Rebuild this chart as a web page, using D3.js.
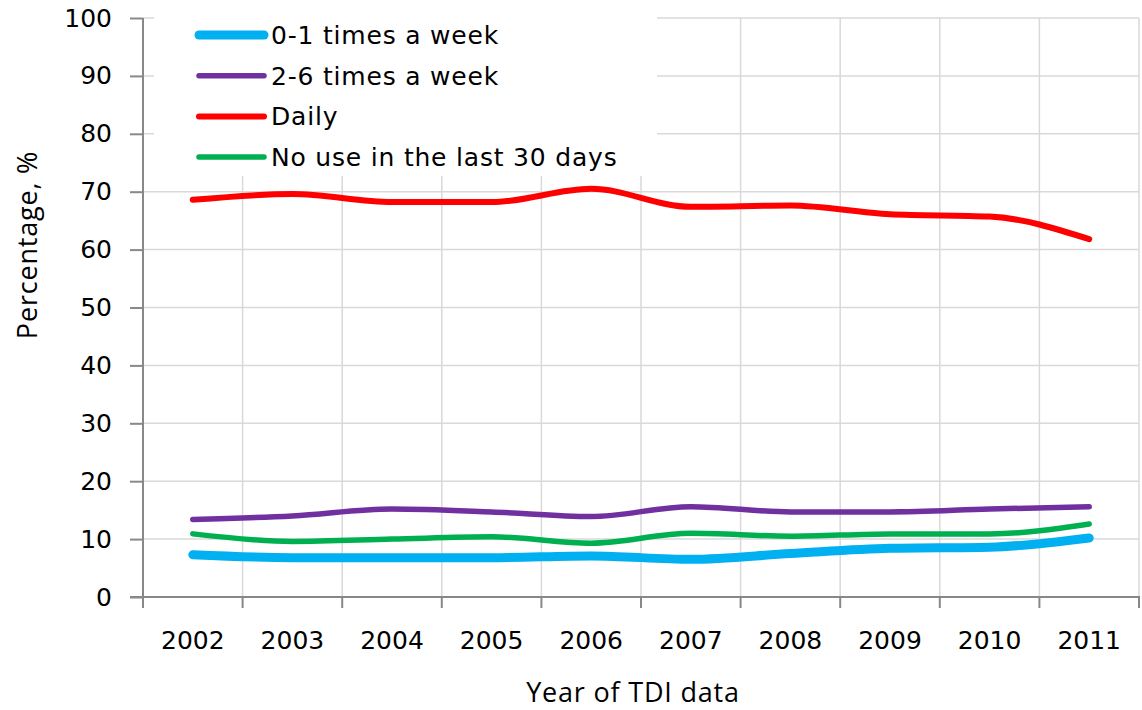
<!DOCTYPE html>
<html>
<head>
<meta charset="utf-8">
<script src="https://cdn.jsdelivr.net/npm/d3@7"></script>
<style>
    body { margin: 0; background: #fff; }
    text { fill: #000; }
</style>
</head>
<body>
<div id="container"></div>
<script>
var years = ["2002", "2003", "2004", "2005", "2006", "2007", "2008", "2009", "2010", "2011"];

var seriesNames = ["0-1 times a week", "2-6 times a week", "Daily", "No use in the last 30 days"];

var onceWeek = [7.3, 6.8, 6.8, 6.8, 7.1, 6.5, 7.5, 8.4, 8.6, 10.2];
var sixWeek = [13.4, 14.0, 15.2, 14.7, 13.9, 15.6, 14.7, 14.7, 15.2, 15.6];
var daily = [68.6, 69.6, 68.2, 68.2, 70.5, 67.4, 67.6, 66.1, 65.7, 61.8];
var noUse = [10.9, 9.6, 10.0, 10.4, 9.3, 11.0, 10.5, 10.9, 10.9, 12.6];

var yTicks = [0, 10, 20, 30, 40, 50, 60, 70, 80, 90, 100];

var colors = ["#00b0f0", "#7030a0", "#ff0000", "#00b050"];
var widths = [9, 5.5, 6, 5.5];

var width = 1142,
    height = 710;

var svg = d3.select("#container")
    .append("svg")
    .attr("width", width)
    .attr("height", height);

var x = d3.scaleBand().domain(years).range([143, 1139]);
var y = d3.scaleLinear().domain([0, 100]).range([597, 18]);

var gridG = svg.append("g"),
    legendBoxG = svg.append("g"),
    axisG = svg.append("g"),
    linesG = svg.append("g"),
    legendG = svg.append("g");

// gridlines
gridG.selectAll("line.h")
    .data(yTicks.slice(1))
    .enter().append("line")
    .attr("x1", 143).attr("x2", 1139)
    .attr("y1", function (d) { return y(d) })
    .attr("y2", function (d) { return y(d) })
    .attr("stroke", "#d9d9d9")
    .attr("stroke-width", 1.5);

gridG.selectAll("line.v")
    .data(years.slice(1).concat(["end"]))
    .enter().append("line")
    .attr("x1", function (d) { return d == "end" ? 1139 : x(d) })
    .attr("x2", function (d) { return d == "end" ? 1139 : x(d) })
    .attr("y1", 18).attr("y2", 597)
    .attr("stroke", "#d9d9d9")
    .attr("stroke-width", 1.5);

// white legend background hides the grid behind it
legendBoxG.append("rect")
    .attr("x", 154).attr("y", 0)
    .attr("width", 503).attr("height", 176)
    .attr("fill", "white");

// axes
var yAxis = d3.axisLeft(y).tickValues(yTicks).tickSize(13).tickPadding(18);
var xAxis = d3.axisBottom(x).tickSize(0).tickPadding(34);

axisG.append("g")
    .attr("transform", "translate(143,0)")
    .call(yAxis)
    .call(function (g) {
        g.select(".domain").attr("stroke", "#888").attr("stroke-width", 2).attr("d", "M0,18V597");
        g.selectAll(".tick line").attr("stroke", "#888").attr("stroke-width", 2);
        g.selectAll("text").attr("font-family", "DejaVu Sans").attr("font-size", 25).attr("fill", "#000");
    });

axisG.append("g")
    .attr("transform", "translate(0,597)")
    .call(xAxis)
    .call(function (g) {
        g.select(".domain").attr("stroke", "#888").attr("stroke-width", 2).attr("d", "M130,0H1140");
        g.selectAll("text").attr("font-family", "DejaVu Sans").attr("font-size", 25).attr("fill", "#000");
    });

// x category tick marks on the band edges
axisG.selectAll("line.xt")
    .data(years.concat(["end"]))
    .enter().append("line")
    .attr("x1", function (d) { return d == "end" ? 1139 : x(d) })
    .attr("x2", function (d) { return d == "end" ? 1139 : x(d) })
    .attr("y1", 597).attr("y2", 608)
    .attr("stroke", "#888")
    .attr("stroke-width", 2);

// axis titles
axisG.append("text")
    .attr("x", 633).attr("y", 702)
    .attr("text-anchor", "middle")
    .attr("font-family", "Open Sans")
    .attr("font-size", 27)
    .attr("letter-spacing", 0.8)
    .text("Year of TDI data");

axisG.append("text")
    .attr("transform", "translate(37,245) rotate(-90)")
    .attr("text-anchor", "middle")
    .attr("font-family", "Open Sans")
    .attr("font-size", 27)
    .attr("letter-spacing", 0.8)
    .text("Percentage, %");

// lines
var allSeries = [onceWeek, sixWeek, daily, noUse];

var line = d3.line()
    .x(function (d, i) { return x(years[i]) + x.bandwidth() / 2 })
    .y(function (d) { return y(d) })
    .curve(d3.curveMonotoneX);

linesG.selectAll("path")
    .data(allSeries)
    .enter().append("path")
    .attr("d", line)
    .attr("fill", "none")
    .attr("stroke", function (d, i) { return colors[i] })
    .attr("stroke-width", function (d, i) { return widths[i] })
    .attr("stroke-linecap", "round")
    .attr("stroke-linejoin", "round");

// legend
var legendRows = legendG.selectAll("g")
    .data(seriesNames)
    .enter().append("g")
    .attr("transform", function (d, i) { return "translate(0," + (35 + i * 40.7) + ")" });

legendRows.append("line")
    .attr("x1", 199).attr("x2", 264)
    .attr("stroke", function (d, i) { return colors[i] })
    .attr("stroke-width", function (d, i) { return widths[i] })
    .attr("stroke-linecap", "round");

legendRows.append("text")
    .attr("x", 271)
    .attr("dy", "0.36em")
    .attr("font-family", "DejaVu Sans")
    .attr("font-size", 25)
    .attr("letter-spacing", 0.8)
    .text(function (d) { return d });
</script>
</body>
</html>
